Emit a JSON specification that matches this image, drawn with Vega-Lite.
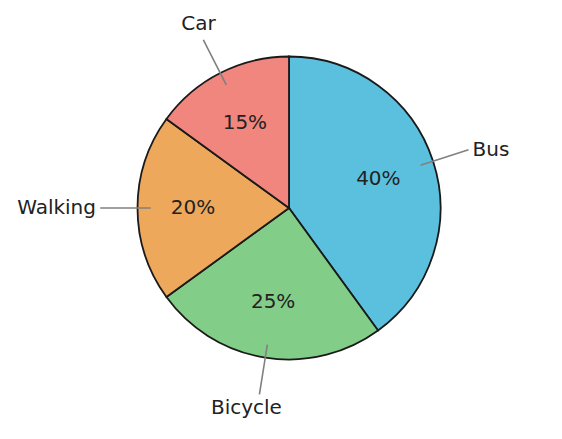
{
  "$schema": "https://vega.github.io/schema/vega-lite/v6.json",
  "description": "Transport mode share",
  "width": 546,
  "height": 416,
  "autosize": "none",
  "padding": {"left": 16, "top": 0, "right": 0, "bottom": 23},
  "background": "white",
  "config": {
    "view": {"stroke": null},
    "text": {"font": "DejaVu Sans", "fontSize": 20, "color": "#222222", "baseline": "middle"}
  },
  "data": {
    "values": [
      {"mode": "Bus", "share": 40},
      {"mode": "Bicycle", "share": 25},
      {"mode": "Walking", "share": 20},
      {"mode": "Car", "share": 15}
    ]
  },
  "transform": [
    {"joinaggregate": [{"op": "sum", "field": "share", "as": "total"}]},
    {"window": [{"op": "sum", "field": "share", "as": "cum"}], "sort": [{"field": "share", "order": "descending"}]},
    {"calculate": "2 * PI * (datum.cum - datum.share) / datum.total", "as": "a0"},
    {"calculate": "2 * PI * datum.cum / datum.total", "as": "a1"},
    {"calculate": "(datum.a0 + datum.a1) / 2", "as": "mid"},
    {"calculate": "datum.mid + 0.0005", "as": "mid2"},
    {"calculate": "datum.share + '%'", "as": "pct"}
  ],
  "layer": [
    {
      "mark": {"type": "arc", "radius": 151.5, "stroke": "#1a1a1a", "strokeWidth": 1.8},
      "encoding": {
        "theta": {"field": "a0", "type": "quantitative", "scale": null},
        "theta2": {"field": "a1"},
        "color": {
          "field": "mode",
          "type": "nominal",
          "scale": {
            "domain": ["Bus", "Bicycle", "Walking", "Car"],
            "range": ["#5bc0de", "#82ce88", "#eda85b", "#f0867e"]
          },
          "legend": null
        }
      }
    },
    {
      "mark": {"type": "arc", "radius": 188, "radius2": 139, "filled": false, "stroke": "#808080", "strokeWidth": 1.5},
      "encoding": {
        "theta": {"field": "mid", "type": "quantitative", "scale": null},
        "theta2": {"field": "mid2"}
      }
    },
    {
      "mark": {"type": "text", "radius": 95, "align": "center", "dx": -1},
      "encoding": {
        "theta": {"field": "mid", "type": "quantitative", "scale": null},
        "text": {"field": "pct"}
      }
    },
    {
      "transform": [{"filter": "datum.mode == 'Bus'"}],
      "mark": {"type": "text", "radius": 193, "align": "left", "dy": 2},
      "encoding": {
        "theta": {"field": "mid", "type": "quantitative", "scale": null},
        "text": {"field": "mode"}
      }
    },
    {
      "transform": [{"filter": "datum.mode == 'Walking'"}],
      "mark": {"type": "text", "radius": 193, "align": "right"},
      "encoding": {
        "theta": {"field": "mid", "type": "quantitative", "scale": null},
        "text": {"field": "mode"}
      }
    },
    {
      "transform": [{"filter": "datum.mode == 'Car'"}],
      "mark": {"type": "text", "radius": 206, "align": "center", "dx": 3},
      "encoding": {
        "theta": {"field": "mid", "type": "quantitative", "scale": null},
        "text": {"field": "mode"}
      }
    },
    {
      "transform": [{"filter": "datum.mode == 'Bicycle'"}],
      "mark": {"type": "text", "radius": 202, "align": "center", "dx": -11},
      "encoding": {
        "theta": {"field": "mid", "type": "quantitative", "scale": null},
        "text": {"field": "mode"}
      }
    }
  ]
}
